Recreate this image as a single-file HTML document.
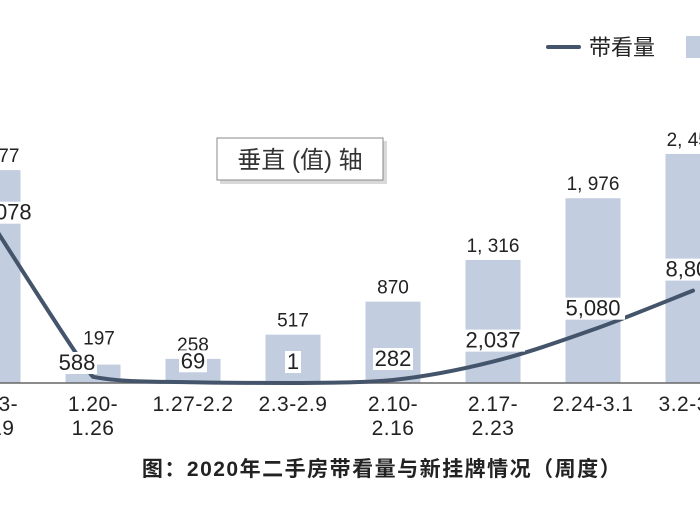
<!DOCTYPE html>
<html><head><meta charset="utf-8"><style>
body{margin:0;width:700px;height:500px;background:#fff;overflow:hidden;font-family:"Liberation Sans","Noto Sans CJK SC",sans-serif}
svg text{font-family:"Liberation Sans","Noto Sans CJK SC",sans-serif}
</style></head><body>
<svg id="c" width="700" height="500">
<g>
<line x1="548" y1="47" x2="579" y2="47" stroke="#44546a" stroke-width="4" stroke-linecap="round"/>
<text x="589" y="55" font-size="22" fill="#222">带看量</text>
<rect x="686" y="36" width="20" height="22" fill="#c2cde0"/>
</g>
<g>
<rect x="220" y="141" width="167" height="43" fill="#d9d9d9"/>
<rect x="217" y="138" width="166" height="42" fill="#fff" stroke="#888"/>
<text x="300" y="168" font-size="24" fill="#333" text-anchor="middle">垂直 (值) 轴</text>
</g>
<g id="bars"></g>
<line x1="0" y1="383" x2="700" y2="383" stroke="#666" stroke-width="1.5"/>
<g id="line"></g>
<g id="xl"></g>
<text x="382" y="476" font-size="21" letter-spacing="1.5" font-weight="bold" fill="#222" text-anchor="middle">图：2020年二手房带看量与新挂牌情况（周度）</text>
</svg>
<script>
const categories=[["1.13-","1.19"],["1.20-","1.26"],["1.27-2.2"],["2.3-2.9"],["2.10-","2.16"],["2.17-","2.23"],["2.24-3.1"],["3.2-3.8"]];
const listings=[2277,197,258,517,870,1316,1976,2450];
const listingLabels=["2, 277","197","258","517","870","1, 316","1, 976","2, 450"];
const viewings=[15078,588,69,1,282,2037,5080,8800];
const viewingLabels=["15,078","588","69","1","282","2,037","5,080","8,800"];
const NS="http://www.w3.org/2000/svg";
const base=383;
const xC=i=>-7+i*100;
const yBar=v=>base-v*0.0935;
const yLine=v=>base-v*0.0105;
function mk(t,a,p,txt){const e=document.createElementNS(NS,t);for(const k in a)e.setAttribute(k,a[k]);if(txt!==undefined)e.textContent=txt;p.appendChild(e);return e;}
const gb=document.getElementById('bars'),gl=document.getElementById('line'),gx=document.getElementById('xl');
listings.forEach((v,i)=>{
 const r=mk('rect',{x:xC(i)-27.5,y:yBar(v),width:55,height:base-yBar(v),fill:'#c2cde0'},gb);
 
 
 const lx=i==1?xC(i)+6:xC(i), ly=i==1?yBar(v)-20:yBar(v)-8;
 const t=mk('text',{x:lx,y:ly,'font-size':19,'text-anchor':'middle',fill:'#222'},gb,listingLabels[i]);
 
 
 categories[i].forEach((s,j)=>{
  const c=mk('text',{x:xC(i),y:411+j*24,'font-size':21,'letter-spacing':'0.5','text-anchor':'middle',fill:'#222'},gx,s);
  
  
 });
});
const pts=viewings.map((v,i)=>[xC(i),yLine(v)]);
let d='M'+pts[0][0]+','+pts[0][1];
for(let i=0;i<pts.length-1;i++){const p0=pts[Math.max(0,i-1)],p1=pts[i],p2=pts[i+1],p3=pts[Math.min(pts.length-1,i+2)];
 let c1=[p1[0]+(p2[0]-p0[0])/6,p1[1]+(p2[1]-p0[1])/6],c2=[p2[0]-(p3[0]-p1[0])/6,p2[1]-(p3[1]-p1[1])/6];
 if(i==0){c1=p1;c2=[p2[0]-10,p2[1]-10];}
 c1[1]=Math.min(c1[1],base);c2[1]=Math.min(c2[1],base);
 d+=` C${c1[0]},${c1[1]} ${c2[0]},${c2[1]} ${p2[0]},${p2[1]}`;}
const path=mk('path',{d:d,fill:'none',stroke:'#44546a','stroke-width':4,'stroke-linecap':'round'},gl);


viewings.forEach((v,i)=>{
 let x=xC(i), y=Math.min(yLine(v)-14,base-14);
 if(i==0){y=yLine(v)-5;x=xC(i)+5;}
 if(i==1){x=xC(i)-16;y=370;}
 const w=viewingLabels[i].length*12+4;
 const bg=mk('rect',{x:x-w/2,y:y-18,width:w,height:22,fill:'#fff'},gl);
 
 
 const t=mk('text',{x:x,y:y,'font-size':22,'text-anchor':'middle',fill:'#222'},gl,viewingLabels[i]);
 
 
});
</script>
</body></html>
